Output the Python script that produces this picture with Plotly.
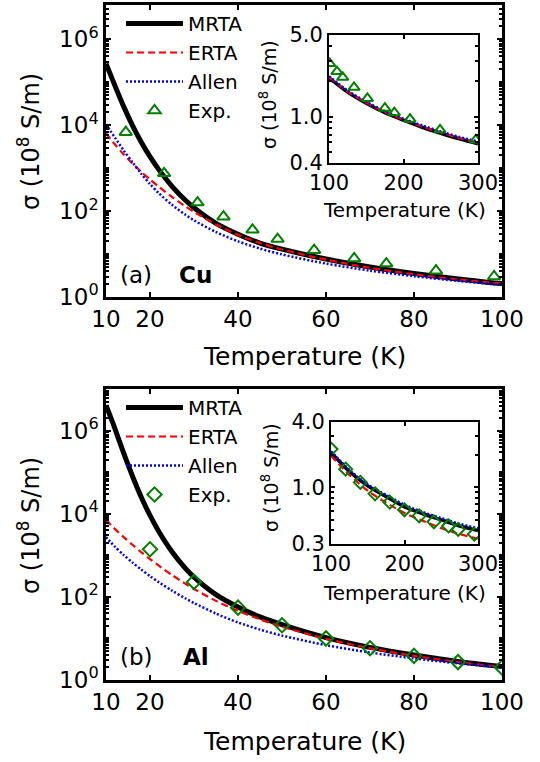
import plotly.graph_objects as go
import numpy as np

# ---------------- data ----------------
T_main = [10, 11, 12, 14, 16, 18, 20, 22, 25, 28, 30, 35, 40, 45, 50, 60, 70, 80, 90, 100]

cu_mrta = [2.7e5, 1.53e5, 8.5e4, 2.75e4, 9.96e3, 4.07e3, 1.85e3, 925, 378, 181, 120, 52, 29, 18, 13, 7.66, 5.0, 3.54, 2.64, 2.05]
cu_erta = [6.5e3, 4.8e3, 3.6e3, 2.1e3, 1.29e3, 825, 544, 368, 214, 130, 96, 48.7, 28.0, 18.1, 12.8, 7.42, 4.78, 3.38, 2.56, 2.05]
cu_allen = [1.05e4, 7.4e3, 5.2e3, 2.6e3, 1.38e3, 745, 426, 262, 140, 83, 61, 32.5, 19.8, 13.4, 9.8, 6.0, 4.11, 3.04, 2.37, 1.92]
cu_exp_T = [14.5, 23.2, 30.8, 36.7, 43.3, 49.0, 57.3, 66.4, 73.7, 85.0, 98.2]
cu_exp = [6.9e3, 760, 158, 74, 36.7, 22.4, 12.3, 7.9, 6.0, 4.1, 3.0]

T_inset = [100, 125, 150, 175, 200, 225, 250, 275, 300]
cu_in_mrta = [2.15, 1.62, 1.30, 1.08, 0.93, 0.81, 0.72, 0.645, 0.585]
cu_in_erta = [2.18, 1.64, 1.31, 1.09, 0.94, 0.82, 0.73, 0.655, 0.595]
cu_in_allen = [2.22, 1.67, 1.34, 1.11, 0.96, 0.84, 0.745, 0.67, 0.61]
cu_in_exp_T = [101, 110.7, 118.4, 133.6, 151.5, 175, 187.7, 208.7, 249, 297]
cu_in_exp = [2.85, 2.43, 2.17, 1.78, 1.43, 1.18, 1.08, 0.95, 0.77, 0.63]

al_mrta = [4.0e6, 2.17e6, 1.13e6, 2.9e5, 8.1e4, 2.53e4, 9.1e3, 3.74e3, 1.215e3, 490, 298, 113, 57, 33, 21.5, 10.5, 6.1, 4.0, 2.8, 2.1]
al_erta = [7.0e3, 5.49e3, 4.32e3, 2.74e3, 1.79e3, 1.19e3, 811, 562, 335, 208, 155, 80, 46, 28.7, 19.1, 9.8, 5.8, 3.81, 2.71, 2.05]
al_allen = [2.73e3, 2.09e3, 1.62e3, 1.02e3, 670, 454, 316, 225, 141, 92.4, 71.1, 39.6, 24.3, 16.3, 11.7, 6.89, 4.58, 3.30, 2.52, 2.0]
al_exp_T = [20, 30, 40, 50, 60, 70, 80, 90, 100]
al_exp = [1.4e3, 229, 55, 20.7, 10, 5.8, 3.8, 2.7, 2.0]

al_in_mrta = [2.1, 1.4, 1.03, 0.82, 0.66, 0.57, 0.50, 0.44, 0.40]
al_in_erta = [1.95, 1.3, 0.93, 0.72, 0.58, 0.49, 0.42, 0.37, 0.335]
al_in_allen = [2.15, 1.45, 1.06, 0.85, 0.69, 0.59, 0.52, 0.46, 0.42]
al_in_exp_T = [100, 120, 140, 160, 180, 200, 220, 240, 260, 273, 295]
al_in_exp = [2.25, 1.47, 1.11, 0.87, 0.73, 0.62, 0.545, 0.48, 0.44, 0.41, 0.37]

main_xticks = [10, 20, 40, 60, 80, 100]
inset_xticks = [100, 200, 300]
cu_inset_yticks = [0.4, 1.0, 5.0]
cu_inset_ytext = ["0.4", "1.0", "5.0"]
al_inset_yticks = [0.3, 1.0, 4.0]
al_inset_ytext = ["0.3", "1.0", "4.0"]

# ---------------- style ----------------
W, H = 540, 762
FONT = "DejaVu Sans"
BLACK = "#000000"
RED = "#ff0000"
BLUE = "#0000ff"
GREEN = "#008000"

def px_x(a, b):
    return [a / W, b / W]

def px_y(top, bottom):
    return [1 - bottom / H, 1 - top / H]

fig = go.Figure()

def add_set(T, mrta, erta, allen, eT, ev, xa, ya, legend, showleg, marker, main):
    lw_m = 5 if main else 3.5
    fig.add_trace(go.Scatter(x=T, y=mrta, mode="lines", name="MRTA", xaxis=xa, yaxis=ya,
                             line=dict(color=BLACK, width=lw_m, shape="spline", smoothing=0.8),
                             showlegend=showleg, legend=legend))
    fig.add_trace(go.Scatter(x=T, y=erta, mode="lines", name="ERTA", xaxis=xa, yaxis=ya,
                             line=dict(color=RED, width=2.2, dash="7px,4px", shape="spline", smoothing=0.8),
                             showlegend=showleg, legend=legend))
    fig.add_trace(go.Scatter(x=T, y=allen, mode="lines", name="Allen", xaxis=xa, yaxis=ya,
                             line=dict(color=BLUE, width=2.5, dash="2px,2px", shape="spline", smoothing=0.8),
                             showlegend=showleg, legend=legend))
    fig.add_trace(go.Scatter(x=eT, y=ev, mode="markers", name="Exp.", xaxis=xa, yaxis=ya,
                             marker=dict(symbol=marker, size=11 if main else 10, color=GREEN,
                                         line=dict(color=GREEN, width=2)),
                             showlegend=showleg, legend=legend))

add_set(T_main, cu_mrta, cu_erta, cu_allen, cu_exp_T, cu_exp, "x", "y", "legend", True, "triangle-up-open", True)
add_set(T_inset, cu_in_mrta, cu_in_erta, cu_in_allen, cu_in_exp_T, cu_in_exp, "x2", "y2", "legend", False, "triangle-up-open", False)
add_set(T_main, al_mrta, al_erta, al_allen, al_exp_T, al_exp, "x3", "y3", "legend2", True, "diamond-open", True)
add_set(T_inset, al_in_mrta, al_in_erta, al_in_allen, al_in_exp_T, al_in_exp, "x4", "y4", "legend2", False, "diamond-open", False)

def decade_ticks(top):
    vals, text, minor = [], [], []
    for d in range(0, top + 1):
        if d % 2 == 0:
            vals.append(10 ** d)
            text.append(f"10<sup>{d}</sup>")
        else:
            minor.append(10 ** d)
        minor += [m * 10 ** d for m in range(2, 10)]
    return vals, text, minor

TICKFONT_MAIN = dict(family=FONT, size=23, color=BLACK)
TICKFONT_IN = dict(family=FONT, size=21, color=BLACK)

def main_x(domain, anchor):
    return dict(domain=domain, anchor=anchor, range=[10, 100], tickmode="array", tickvals=main_xticks,
                ticks="inside", ticklen=5, tickwidth=2, tickcolor=BLACK, automargin=False,
                showline=True, linewidth=2.5, linecolor=BLACK, mirror="ticks",
                showgrid=False, zeroline=False, tickfont=TICKFONT_MAIN)

def main_y(domain, anchor, top, rng):
    v, t, mn = decade_ticks(top)
    return dict(domain=domain, anchor=anchor, type="log", range=rng, tickmode="array", tickvals=v, ticktext=t,
                ticks="inside", ticklen=5, tickwidth=2, tickcolor=BLACK, automargin=False,
                minor=dict(tickmode="array", tickvals=mn, ticks="inside", ticklen=3, tickwidth=1.5, tickcolor=BLACK),
                showline=True, linewidth=2.5, linecolor=BLACK, mirror="ticks",
                showgrid=False, zeroline=False, tickfont=TICKFONT_MAIN)

def inset_x(domain, anchor):
    return dict(domain=domain, anchor=anchor, range=[100, 300], tickmode="array", tickvals=inset_xticks,
                ticks="inside", ticklen=4, tickwidth=2, tickcolor=BLACK, automargin=False,
                showline=True, linewidth=2, linecolor=BLACK, mirror="ticks",
                showgrid=False, zeroline=False, tickfont=TICKFONT_IN)

def inset_y(domain, anchor, vals, text, lo, hi):
    mn = [v for v in [0.3, 0.4, 0.5, 0.6, 0.7, 0.8, 0.9, 2, 3, 4, 5] if lo <= v <= hi and v not in vals]
    return dict(domain=domain, anchor=anchor, type="log", range=[np.log10(lo), np.log10(hi)],
                tickmode="array", tickvals=vals, ticktext=text, automargin=False,
                ticks="inside", ticklen=4, tickwidth=2, tickcolor=BLACK,
                minor=dict(tickmode="array", tickvals=mn, ticks="inside", ticklen=3, tickwidth=1.5, tickcolor=BLACK),
                showline=True, linewidth=2, linecolor=BLACK, mirror="ticks",
                showgrid=False, zeroline=False, tickfont=TICKFONT_IN)

xd_main = px_x(106, 502)
fig.update_layout(
    xaxis=main_x(xd_main, "y"),
    yaxis=main_y(px_y(5, 297), "x", 6, [0, 6.8]),
    xaxis2=inset_x(px_x(329, 478), "y2"),
    yaxis2=inset_y(px_y(35, 163), "x2", cu_inset_yticks, cu_inset_ytext, 0.4, 5.0),
    xaxis3=main_x(xd_main, "y3"),
    yaxis3=main_y(px_y(389, 680), "x3", 6, [0, 7.0]),
    xaxis4=inset_x(px_x(331, 478), "y4"),
    yaxis4=inset_y(px_y(422, 544), "x4", al_inset_yticks, al_inset_ytext, 0.3, 4.0),
)

leg_common = dict(font=dict(family=FONT, size=20, color=BLACK), bgcolor="rgba(0,0,0,0)",
                  xanchor="left", yanchor="top", itemwidth=57, tracegroupgap=0)
fig.update_layout(
    legend=dict(leg_common, x=121 / W, y=1 - 4 / H),
    legend2=dict(leg_common, x=121 / W, y=1 - 388 / H),
)

ann = []
def A(text, x, y, size, angle=0, bold=False):
    ann.append(dict(text=f"<b>{text}</b>" if bold else text, x=x / W, y=1 - y / H, xref="paper", yref="paper",
                    showarrow=False, textangle=angle, xanchor="center", yanchor="middle",
                    font=dict(family=FONT, size=size, color=BLACK)))

A("Temperature (K)", 304, 356, 25)
A("Temperature (K)", 304, 741, 25)
A("σ (10<sup>8</sup> S/m)", 29, 142, 24, -90)
A("σ (10<sup>8</sup> S/m)", 29, 526, 24, -90)
A("(a)", 136, 275, 23)
A("Cu", 195, 275, 23, bold=True)
A("(b)", 136, 657, 23)
A("Al", 196, 657, 23, bold=True)
A("Temperature (K)", 404, 210, 20)
A("Temperature (K)", 404, 593, 20)
A("σ (10<sup>8</sup> S/m)", 268, 95, 19, -90)
A("σ (10<sup>8</sup> S/m)", 270, 478, 19, -90)

fig.update_layout(annotations=ann, width=W, height=H, margin=dict(l=0, r=0, t=0, b=0, autoexpand=False),
                  paper_bgcolor="white", plot_bgcolor="rgba(0,0,0,0)", font=dict(family=FONT))

fig.write_html("out.html", config={"displayModeBar": False},
               post_script="document.body.style.margin='0px';")
